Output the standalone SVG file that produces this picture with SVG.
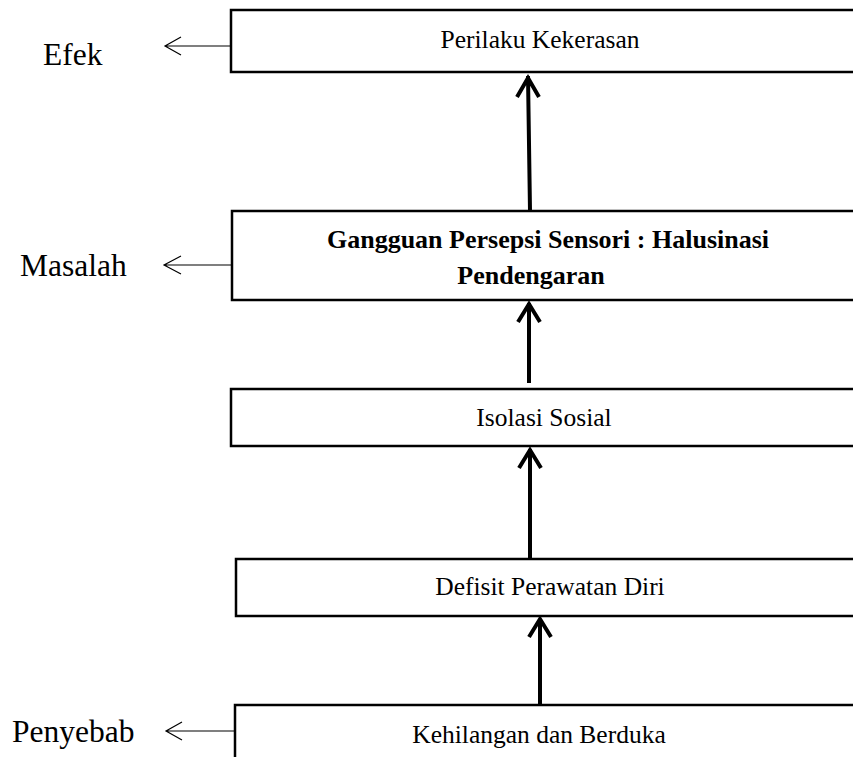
<svg xmlns="http://www.w3.org/2000/svg" width="853" height="757" viewBox="0 0 853 757">
<style>
.box{fill:#fff;stroke:#000;stroke-width:2.5}
.t{font-family:"Liberation Serif","Times New Roman",serif;font-size:25.5px;fill:#000;text-anchor:middle}
.b{font-weight:bold;font-size:26px}
.lbl{font-family:"Liberation Serif","Times New Roman",serif;font-size:31.5px;fill:#000}
.thick{stroke:#000;stroke-width:4;fill:none}
.thin{stroke:#000;stroke-width:1.2;fill:none}
</style>
<rect width="853" height="757" fill="#fff"/>
<g id="n1"><rect class="box" x="231" y="10" width="640" height="62"/><text class="t" x="540" y="48">Perilaku Kekerasan</text></g>
<g id="n2"><rect class="box" x="232" y="211" width="640" height="89"/><text class="t b" x="548" y="248">Gangguan Persepsi Sensori : Halusinasi</text><text class="t b" x="531" y="284">Pendengaran</text></g>
<g id="n3"><rect class="box" x="231" y="389" width="640" height="57"/><text class="t" x="544" y="426">Isolasi Sosial</text></g>
<g id="n4"><rect class="box" x="236" y="559" width="640" height="57"/><text class="t" x="550" y="595">Defisit Perawatan Diri</text></g>
<g id="n5"><rect class="box" x="235" y="705" width="640" height="80"/><text class="t" x="539" y="743">Kehilangan dan Berduka</text></g>
<g id="labels">
<text class="lbl" x="43" y="65">Efek</text>
<text class="lbl" x="20" y="276">Masalah</text>
<text class="lbl" x="12" y="742">Penyebab</text>
</g>
<g id="connectors">
<path class="thick" d="M530 211 L528 76 M517 97 L528 78 L539 97"/>
<path class="thick" d="M529 383 L529 303 M518 322 L529 304 L540 322"/>
<path class="thick" d="M530 559 L530 449 M519 468 L530 450 L541 468"/>
<path class="thick" d="M540 705 L540 619 M529 637 L540 619 L551 637"/>
<path class="thin" d="M231 46 L165 46 M181 37 L165 46 L181 55"/>
<path class="thin" d="M232 265 L164 265 M181 256 L164 265 L181 274"/>
<path class="thin" d="M235 731 L166 731 M182 722 L166 731 L182 740"/>
</g>
</svg>
